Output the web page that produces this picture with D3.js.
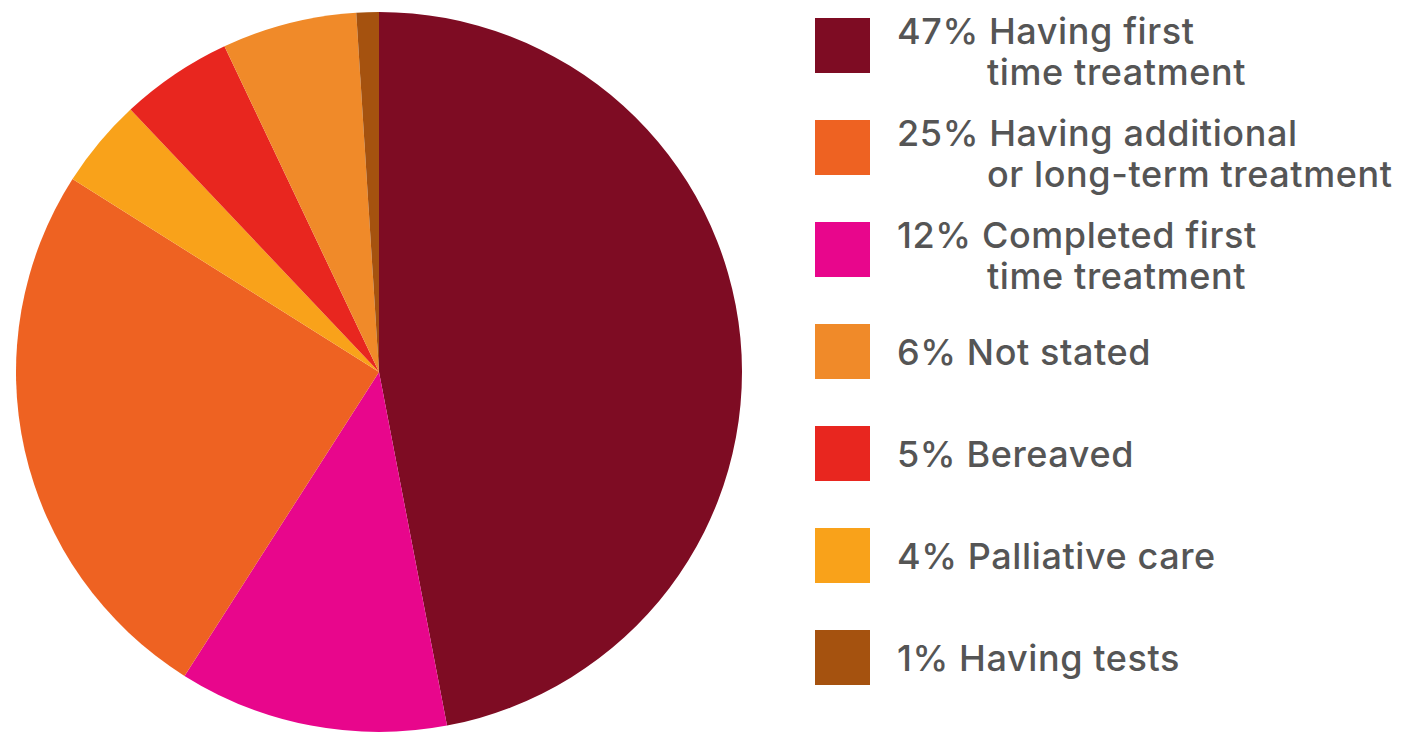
<!DOCTYPE html>
<html>
<head>
<meta charset="utf-8">
<script src="https://cdn.jsdelivr.net/npm/d3@7"></script>
<style>
  html, body { margin: 0; padding: 0; background: #fff; }
  svg { display: block; }
</style>
</head>
<body>
<svg id="chart" width="1404" height="739"></svg>
<script>
// Data (clockwise from 12 o'clock in the pie)
const categories = [
  "Having first time treatment",
  "Completed first time treatment",
  "Having additional or long-term treatment",
  "Palliative care",
  "Bereaved",
  "Not stated",
  "Having tests"
];
const values = [47, 12, 25, 4, 5, 6, 1];
const colors = ["#7e0c23", "#e8068c", "#ee6222", "#f9a21a", "#e8261f", "#f08a29", "#a5520f"];

// Legend order and text lines
const legendOrder = [0, 2, 1, 5, 4, 3, 6];
const legendPct = ["47%", "25%", "12%", "6%", "5%", "4%", "1%"];
const legendLine1 = ["Having first", "Having additional", "Completed first", "Not stated", "Bereaved", "Palliative care", "Having tests"];
const legendLine2 = ["time treatment", "or long-term treatment", "time treatment", "", "", "", ""];

const svg = d3.select("#chart");

// Pie
const cx = 379, cy = 372, r = 363, sy = 360 / 363;
const pie = d3.pie().sort(null).value(d => d);
const arc = d3.arc().innerRadius(0).outerRadius(r);
const g = svg.append("g").attr("transform", `translate(${cx},${cy}) scale(1,${sy})`);
g.selectAll("path")
  .data(pie(values))
  .join("path")
  .attr("d", arc)
  .attr("fill", (d, i) => colors[i]);

// Legend
const y = d3.scaleBand().domain(d3.range(legendOrder.length)).range([18, 18 + 102 * 7]);
const lg = svg.append("g");
const rows = lg.selectAll("g.row")
  .data(legendOrder)
  .join("g")
  .attr("class", "row")
  .attr("transform", (d, i) => `translate(815,${y(i)})`);

rows.append("rect")
  .attr("width", 55).attr("height", 55)
  .attr("fill", d => colors[d]);

const fontFamily = "Inter, 'Liberation Sans', sans-serif";
const textColor = "#555";
function styleText(sel) {
  sel.attr("fill", textColor)
    .style("font-family", fontFamily)
    .style("font-size", "36px")
    .style("font-weight", "500")
    .style("letter-spacing", "0.6px");
}
rows.each(function(d, i) {
  const row = d3.select(this);
  const two = legendLine2[i] !== "";
  const t = row.append("text")
    .attr("x", 82)
    .attr("y", two ? 13 : 28)
    .attr("dy", "0.35em")
    .call(styleText);
  t.append("tspan").text(legendPct[i]);
  t.append("tspan").text(" " + legendLine1[i]);
  if (two) {
    row.append("text")
      .attr("x", 172)
      .attr("y", 54)
      .attr("dy", "0.35em")
      .call(styleText)
      .text(legendLine2[i]);
  }
});
</script>
</body>
</html>
